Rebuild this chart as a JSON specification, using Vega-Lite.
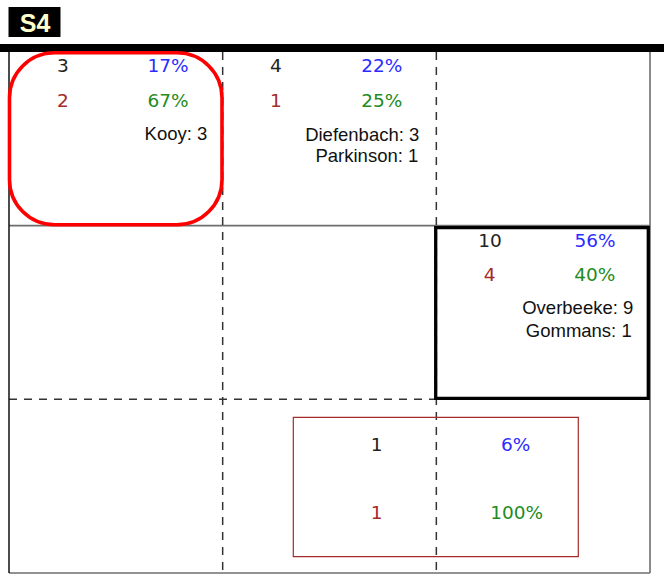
{
  "$schema": "https://vega.github.io/schema/vega-lite/v6.json",
  "width": 664,
  "height": 577,
  "autosize": {"type": "none"},
  "padding": 0,
  "background": "white",
  "config": {"view": {"stroke": null}},
  "layer": [
    {
      "data": {"values": [{"x": 0, "x2": 3, "y": 1, "y2": 1}, {"x": 3, "x2": 3, "y": 0, "y2": 3}, {"x": 0, "x2": 3, "y": 3, "y2": 3}]},
      "mark": {"type": "rule", "color": "#6e6e6e", "strokeWidth": 1.6},
      "encoding": {
        "x": {"field": "x", "type": "quantitative", "scale": {"domain": [-0.04212, 3.06548], "nice": false, "zero": false}, "axis": null},
        "x2": {"field": "x2"},
        "y": {"field": "y", "type": "quantitative", "scale": {"domain": [-0.29942, 3.02297], "nice": false, "zero": false, "reverse": true}, "axis": null},
        "y2": {"field": "y2"}
      }
    },
    {
      "data": {"values": [{"x": 1, "x2": 1, "y": 0, "y2": 3}, {"x": 2, "x2": 2, "y": 0, "y2": 3}, {"x": 0, "x2": 3, "y": 2, "y2": 2}]},
      "mark": {"type": "rule", "color": "#333333", "strokeWidth": 1.5, "strokeDash": [8, 7]},
      "encoding": {
        "x": {"field": "x", "type": "quantitative", "axis": null},
        "x2": {"field": "x2"},
        "y": {"field": "y", "type": "quantitative", "axis": null},
        "y2": {"field": "y2"}
      }
    },
    {
      "data": {"values": [{"x": 0, "x2": 0, "y": 0, "y2": 3}]},
      "mark": {"type": "rule", "color": "#111111", "strokeWidth": 1.5},
      "encoding": {
        "x": {"field": "x", "type": "quantitative", "axis": null},
        "x2": {"field": "x2"},
        "y": {"field": "y", "type": "quantitative", "axis": null},
        "y2": {"field": "y2"}
      }
    },
    {
      "data": {"values": [{"x": -0.04212, "x2": 3.06548, "y": -0.023}]},
      "mark": {"type": "rule", "color": "#000000", "strokeWidth": 8},
      "encoding": {
        "x": {"field": "x", "type": "quantitative", "axis": null},
        "x2": {"field": "x2"},
        "y": {"field": "y", "type": "quantitative", "axis": null}
      }
    },
    {
      "data": {"values": [{"x": -0.0023, "x2": 0.241, "y": -0.2591, "y2": -0.0864}]},
      "mark": {"type": "rect", "color": "#000000"},
      "encoding": {
        "x": {"field": "x", "type": "quantitative", "axis": null},
        "x2": {"field": "x2"},
        "y": {"field": "y", "type": "quantitative", "axis": null},
        "y2": {"field": "y2"}
      }
    },
    {
      "data": {"values": [{"x": 0.1217, "y": -0.1612, "label": "S4"}]},
      "mark": {"type": "text", "font": "Liberation Sans", "fontWeight": "bold", "fontSize": 25, "color": "#FFFFCC", "align": "center", "baseline": "middle"},
      "encoding": {
        "x": {"field": "x", "type": "quantitative", "axis": null},
        "y": {"field": "y", "type": "quantitative", "axis": null},
        "text": {"field": "label"}
      }
    },
    {
      "data": {"values": [{"x": 1.997, "x2": 2.992, "y": 1.0118, "y2": 1.994}]},
      "mark": {"type": "rect", "fillOpacity": 0, "stroke": "#000000", "strokeWidth": 3.3},
      "encoding": {
        "x": {"field": "x", "type": "quantitative", "axis": null},
        "x2": {"field": "x2"},
        "y": {"field": "y", "type": "quantitative", "axis": null},
        "y2": {"field": "y2"}
      }
    },
    {
      "data": {"values": [{"x": 0.0023, "x2": 0.9969, "y": 0.0046, "y2": 0.9944}]},
      "mark": {"type": "rect", "fillOpacity": 0, "stroke": "#FF0000", "strokeWidth": 3.6, "cornerRadius": 45},
      "encoding": {
        "x": {"field": "x", "type": "quantitative", "axis": null},
        "x2": {"field": "x2"},
        "y": {"field": "y", "type": "quantitative", "axis": null},
        "y2": {"field": "y2"}
      }
    },
    {
      "data": {"values": [{"x": 1.3306, "x2": 2.6644, "y": 2.1034, "y2": 2.9061}]},
      "mark": {"type": "rect", "fillOpacity": 0, "stroke": "#A52A2A", "strokeWidth": 1.2},
      "encoding": {
        "x": {"field": "x", "type": "quantitative", "axis": null},
        "x2": {"field": "x2"},
        "y": {"field": "y", "type": "quantitative", "axis": null},
        "y2": {"field": "y2"}
      }
    },
    {
      "data": {"values": [
        {"x": 0.2527, "y": 0.0814, "label": "3"},
        {"x": 1.2496, "y": 0.0814, "label": "4"},
        {"x": 2.2512, "y": 1.0861, "label": "10"},
        {"x": 1.7209, "y": 2.2619, "label": "1"}
      ]},
      "mark": {"type": "text", "font": "DejaVu Sans", "fontSize": 18.5, "color": "#222222", "align": "center", "baseline": "middle"},
      "encoding": {
        "x": {"field": "x", "type": "quantitative", "axis": null},
        "y": {"field": "y", "type": "quantitative", "axis": null},
        "text": {"field": "label"}
      }
    },
    {
      "data": {"values": [
        {"x": 0.2527, "y": 0.2829, "label": "2"},
        {"x": 1.2496, "y": 0.2829, "label": "1"},
        {"x": 2.2497, "y": 1.2859, "label": "4"},
        {"x": 1.7209, "y": 2.6552, "label": "1"}
      ]},
      "mark": {"type": "text", "font": "DejaVu Sans", "fontSize": 18.5, "color": "#A52A2A", "align": "center", "baseline": "middle"},
      "encoding": {
        "x": {"field": "x", "type": "quantitative", "axis": null},
        "y": {"field": "y", "type": "quantitative", "axis": null},
        "text": {"field": "label"}
      }
    },
    {
      "data": {"values": [
        {"x": 0.7441, "y": 0.0814, "label": "17%"},
        {"x": 1.7443, "y": 0.0814, "label": "22%"},
        {"x": 2.7426, "y": 1.0861, "label": "56%"},
        {"x": 2.3714, "y": 2.2619, "label": "6%"}
      ]},
      "mark": {"type": "text", "font": "DejaVu Sans", "fontSize": 18.5, "color": "#2B2BFF", "align": "center", "baseline": "middle"},
      "encoding": {
        "x": {"field": "x", "type": "quantitative", "axis": null},
        "y": {"field": "y", "type": "quantitative", "axis": null},
        "text": {"field": "label"}
      }
    },
    {
      "data": {"values": [
        {"x": 0.7441, "y": 0.2829, "label": "67%"},
        {"x": 1.7443, "y": 0.2829, "label": "25%"},
        {"x": 2.7412, "y": 1.2859, "label": "40%"},
        {"x": 2.3761, "y": 2.6552, "label": "100%"}
      ]},
      "mark": {"type": "text", "font": "DejaVu Sans", "fontSize": 18.5, "color": "#228B22", "align": "center", "baseline": "middle"},
      "encoding": {
        "x": {"field": "x", "type": "quantitative", "axis": null},
        "y": {"field": "y", "type": "quantitative", "axis": null},
        "text": {"field": "label"}
      }
    },
    {
      "data": {"values": [
        {"x": 0.9281, "y": 0.4722, "label": "Kooy: 3"},
        {"x": 1.9203, "y": 0.4751, "label": "Diefenbach: 3"},
        {"x": 1.9156, "y": 0.5989, "label": "Parkinson: 1"},
        {"x": 2.9218, "y": 1.473, "label": "Overbeeke: 9"},
        {"x": 2.9143, "y": 1.6054, "label": "Gommans: 1"}
      ]},
      "mark": {"type": "text", "font": "Liberation Sans", "fontSize": 18.5, "color": "#111111", "align": "right", "baseline": "middle"},
      "encoding": {
        "x": {"field": "x", "type": "quantitative", "axis": null},
        "y": {"field": "y", "type": "quantitative", "axis": null},
        "text": {"field": "label"}
      }
    }
  ]
}
